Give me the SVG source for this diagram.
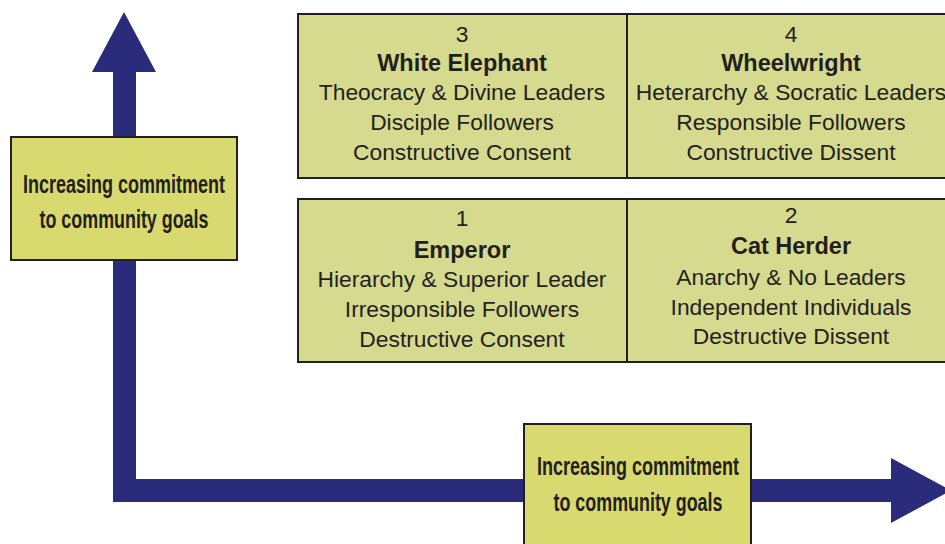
<svg xmlns="http://www.w3.org/2000/svg" width="945" height="544" viewBox="0 0 945 544">
  <style>
    .cell { fill: #d6da8f; stroke: #231f20; stroke-width: 2; }
    .label { fill: #d8d96f; stroke: #231f20; stroke-width: 2; }
    .axis { fill: #2b2b7b; }
    text { font-family: "Liberation Sans", Arial, sans-serif; fill: #231f20; text-anchor: middle; }
    .q { font-size: 22.8px; }
    .qb { font-size: 23.5px; font-weight: bold; }
    .lb { font-size: 25px; font-weight: bold; }
  </style>

  <!-- axes: L-shaped bar with arrowheads -->
  <g id="connectors">
    <path class="axis" d="M124,12 L156,72 L136,72 L136,479 L891,479 L891,458 L951,490.5 L891,523 L891,502 L113,502 L113,72 L92,72 Z"/>
  </g>

  <!-- vertical axis label -->
  <g id="label-vertical">
    <rect class="label" x="11" y="137" width="226" height="123"/>
    <text class="lb" x="124" y="193" textLength="202" lengthAdjust="spacingAndGlyphs">Increasing commitment</text>
    <text class="lb" x="124" y="228" textLength="169" lengthAdjust="spacingAndGlyphs">to community goals</text>
  </g>

  <!-- horizontal axis label -->
  <g id="label-horizontal">
    <rect class="label" x="524" y="424" width="227" height="130"/>
    <text class="lb" x="638" y="475" textLength="202" lengthAdjust="spacingAndGlyphs">Increasing commitment</text>
    <text class="lb" x="638" y="511" textLength="169" lengthAdjust="spacingAndGlyphs">to community goals</text>
  </g>

  <!-- quadrant 3 -->
  <g id="q3">
    <rect class="cell" x="298" y="14" width="329" height="164"/>
    <text class="q" x="462" y="42">3</text>
    <text class="qb" x="462" y="71">White Elephant</text>
    <text class="q" x="462" y="100">Theocracy &amp; Divine Leaders</text>
    <text class="q" x="462" y="130">Disciple Followers</text>
    <text class="q" x="462" y="160">Constructive Consent</text>
  </g>

  <!-- quadrant 4 -->
  <g id="q4">
    <rect class="cell" x="627" y="14" width="328" height="164"/>
    <text class="q" x="791" y="42">4</text>
    <text class="qb" x="791" y="71">Wheelwright</text>
    <text class="q" x="791" y="100">Heterarchy &amp; Socratic Leaders</text>
    <text class="q" x="791" y="130">Responsible Followers</text>
    <text class="q" x="791" y="160">Constructive Dissent</text>
  </g>

  <!-- quadrant 1 -->
  <g id="q1">
    <rect class="cell" x="298" y="199" width="329" height="163"/>
    <text class="q" x="462" y="226">1</text>
    <text class="qb" x="462" y="258">Emperor</text>
    <text class="q" x="462" y="287">Hierarchy &amp; Superior Leader</text>
    <text class="q" x="462" y="317">Irresponsible Followers</text>
    <text class="q" x="462" y="347">Destructive Consent</text>
  </g>

  <!-- quadrant 2 -->
  <g id="q2">
    <rect class="cell" x="627" y="199" width="328" height="163"/>
    <text class="q" x="791" y="223">2</text>
    <text class="qb" x="791" y="254">Cat Herder</text>
    <text class="q" x="791" y="285">Anarchy &amp; No Leaders</text>
    <text class="q" x="791" y="315">Independent Individuals</text>
    <text class="q" x="791" y="344">Destructive Dissent</text>
  </g>
</svg>
